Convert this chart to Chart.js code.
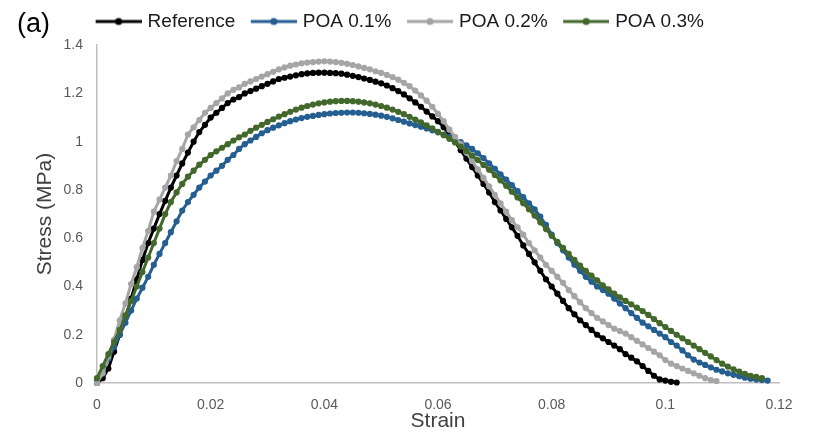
<!DOCTYPE html>
<html>
<head>
<meta charset="utf-8">
<script src="https://cdn.jsdelivr.net/npm/chart.js@4.4.1/dist/chart.umd.min.js"></script>
<style>
  body { margin: 0; background: #fff; }
  #wrap { width: 813px; height: 442px; }
</style>
</head>
<body>
<div id="wrap"><canvas id="stress" width="813" height="442"></canvas></div>
<script>
var seriesNames = ["Reference", "POA 0.1%", "POA 0.2%", "POA 0.3%"];
var seriesColors = ["#000000", "#255e91", "#a5a5a5", "#43682b"];

var xTickLabels = ["0", "0.02", "0.04", "0.06", "0.08", "0.1", "0.12"];
var yTickLabels = ["0", "0.2", "0.4", "0.6", "0.8", "1", "1.2", "1.4"];

// strain readings, shared by all curves
var strain = [
    0.000, 0.001, 0.002, 0.003, 0.004, 0.005, 0.006, 0.007, 0.008, 0.009,
    0.010, 0.011, 0.012, 0.013, 0.014, 0.015, 0.016, 0.017, 0.018, 0.019,
    0.020, 0.021, 0.022, 0.023, 0.024, 0.025, 0.026, 0.027, 0.028, 0.029,
    0.030, 0.031, 0.032, 0.033, 0.034, 0.035, 0.036, 0.037, 0.038, 0.039,
    0.040, 0.041, 0.042, 0.043, 0.044, 0.045, 0.046, 0.047, 0.048, 0.049,
    0.050, 0.051, 0.052, 0.053, 0.054, 0.055, 0.056, 0.057, 0.058, 0.059,
    0.060, 0.061, 0.062, 0.063, 0.064, 0.065, 0.066, 0.067, 0.068, 0.069,
    0.070, 0.071, 0.072, 0.073, 0.074, 0.075, 0.076, 0.077, 0.078, 0.079,
    0.080, 0.081, 0.082, 0.083, 0.084, 0.085, 0.086, 0.087, 0.088, 0.089,
    0.090, 0.091, 0.092, 0.093, 0.094, 0.095, 0.096, 0.097, 0.098, 0.099,
    0.100, 0.101, 0.102, 0.103, 0.104, 0.105, 0.106, 0.107, 0.108, 0.109,
    0.110, 0.111, 0.112, 0.113, 0.114, 0.115, 0.116, 0.117, 0.118
];

// stress (MPa)
var stressRef = [
    0.00, 0.02, 0.06, 0.13, 0.20, 0.27, 0.35, 0.43, 0.51, 0.58,
    0.64, 0.70, 0.755, 0.81, 0.86, 0.91, 0.955, 1.00, 1.04, 1.07,
    1.10, 1.12, 1.14, 1.16, 1.175, 1.185, 1.20, 1.21, 1.22, 1.23,
    1.24, 1.25, 1.26, 1.265, 1.27, 1.275, 1.28, 1.283, 1.285, 1.286,
    1.286, 1.285, 1.284, 1.282, 1.278, 1.273, 1.268, 1.262, 1.256, 1.249,
    1.242, 1.233, 1.222, 1.21, 1.196, 1.18, 1.163, 1.145, 1.125, 1.105,
    1.085, 1.06, 1.03, 1.0, 0.965, 0.93, 0.895, 0.86, 0.825, 0.79,
    0.75, 0.715, 0.68, 0.645, 0.61, 0.57, 0.535, 0.50, 0.465, 0.43,
    0.40, 0.37, 0.34, 0.31, 0.285, 0.26, 0.24, 0.22, 0.20, 0.185,
    0.17, 0.155, 0.14, 0.12, 0.105, 0.09, 0.07, 0.05, 0.03, 0.015,
    0.01, 0.005, 0.002
];

var stressPoa1 = [
    0.01, 0.05, 0.10, 0.15, 0.20, 0.25, 0.30, 0.35, 0.395, 0.44,
    0.49, 0.535, 0.58, 0.625, 0.67, 0.715, 0.75, 0.78, 0.81, 0.835,
    0.86, 0.88, 0.90, 0.925, 0.945, 0.97, 0.99, 1.005, 1.02, 1.035,
    1.048, 1.058, 1.068, 1.077, 1.085, 1.092, 1.098, 1.103, 1.107, 1.111,
    1.114, 1.117, 1.119, 1.12, 1.121, 1.121, 1.12, 1.118, 1.115, 1.112,
    1.108, 1.103, 1.097, 1.09, 1.083, 1.076, 1.069, 1.062, 1.055, 1.047,
    1.039, 1.03, 1.02, 1.01, 0.998, 0.985, 0.97, 0.952, 0.932, 0.91,
    0.888, 0.865, 0.843, 0.82, 0.795, 0.77, 0.745, 0.72, 0.69, 0.655,
    0.615, 0.58, 0.55, 0.52, 0.49, 0.465, 0.44, 0.42, 0.40, 0.385,
    0.37, 0.35, 0.33, 0.31, 0.29, 0.27, 0.25, 0.235, 0.22, 0.205,
    0.19, 0.17, 0.155, 0.135, 0.115, 0.097, 0.085, 0.075, 0.065, 0.055,
    0.048, 0.04, 0.034, 0.028, 0.022, 0.018, 0.014, 0.012, 0.01
];

var stressPoa2 = [
    0.00, 0.04, 0.11, 0.18, 0.26, 0.33, 0.41, 0.48, 0.56, 0.63,
    0.71, 0.76, 0.81, 0.86, 0.92, 0.97, 1.03, 1.06, 1.09, 1.12,
    1.14, 1.16, 1.18, 1.20, 1.215, 1.225, 1.24, 1.25, 1.26, 1.27,
    1.28, 1.29, 1.30, 1.308, 1.315, 1.32, 1.325, 1.328, 1.33, 1.332,
    1.333, 1.332, 1.33, 1.327, 1.323, 1.318, 1.312, 1.306, 1.30, 1.292,
    1.285, 1.277, 1.268, 1.257, 1.244, 1.23, 1.212, 1.192, 1.17, 1.145,
    1.115, 1.085, 1.05, 1.02, 0.99, 0.955, 0.92, 0.885, 0.85, 0.815,
    0.78, 0.745, 0.71, 0.675, 0.645, 0.615, 0.58, 0.55, 0.52, 0.49,
    0.465, 0.44, 0.415, 0.385, 0.36, 0.335, 0.31, 0.29, 0.27, 0.255,
    0.24, 0.225, 0.215, 0.205, 0.19, 0.175, 0.16, 0.145, 0.13, 0.115,
    0.095, 0.08, 0.07, 0.06, 0.05, 0.04, 0.03, 0.02, 0.012, 0.008
];

var stressPoa3 = [
    0.02, 0.07, 0.12, 0.17, 0.22, 0.28, 0.34, 0.40, 0.46, 0.52,
    0.58, 0.64, 0.70, 0.75, 0.79, 0.825, 0.855, 0.88, 0.905, 0.925,
    0.945, 0.96, 0.975, 0.99, 1.005, 1.018, 1.03, 1.045, 1.058, 1.07,
    1.082, 1.093, 1.104, 1.114, 1.124, 1.133, 1.141, 1.148, 1.154, 1.159,
    1.163, 1.166, 1.168, 1.169, 1.169, 1.168, 1.166, 1.163, 1.159, 1.154,
    1.148, 1.141, 1.133, 1.124, 1.114, 1.103, 1.092, 1.08, 1.068, 1.055,
    1.041, 1.027, 1.012, 0.997, 0.98, 0.962, 0.943, 0.924, 0.904, 0.884,
    0.862, 0.84, 0.817, 0.793, 0.769, 0.745, 0.72, 0.694, 0.666, 0.638,
    0.61, 0.585, 0.56, 0.535, 0.51, 0.487, 0.465, 0.445, 0.425, 0.405,
    0.388, 0.371, 0.355, 0.34, 0.326, 0.312, 0.298, 0.282, 0.265, 0.248,
    0.232, 0.216, 0.2, 0.185, 0.17, 0.155, 0.14, 0.125, 0.11, 0.095,
    0.08, 0.068, 0.057, 0.047, 0.038, 0.03, 0.025, 0.02
];

var allStress = [stressRef, stressPoa1, stressPoa2, stressPoa3];

var fontFamily = '"Liberation Sans", Arial, sans-serif';

function toPoints(values) {
    return values.map(function (v, i) {
        return { x: strain[i], y: v };
    });
}

// line + dot picture for the legend; drawn in the right part so the
// text sits close to the line like in the original
function legendIcon(color) {
    var c = document.createElement("canvas");
    c.width = 61;
    c.height = 10;
    var g = c.getContext("2d");
    g.strokeStyle = color;
    g.lineWidth = 3;
    g.beginPath();
    g.moveTo(15, 5);
    g.lineTo(61, 5);
    g.stroke();
    g.fillStyle = color;
    g.beginPath();
    g.arc(38, 5, 3.6, 0, Math.PI * 2);
    g.fill();
    return c;
}
var legendIcons = seriesColors.map(legendIcon);

var panelLabel = {
    id: "panelLabel",
    afterDraw: function (chart) {
        var ctx = chart.ctx;
        ctx.save();
        ctx.font = "27px " + fontFamily;
        ctx.fillStyle = "#000";
        ctx.textBaseline = "alphabetic";
        ctx.fillText("(a)", 17, 32);
        ctx.restore();
    }
};

var datasets = seriesNames.map(function (name, i) {
    return {
        label: name,
        data: toPoints(allStress[i]),
        borderColor: seriesColors[i],
        backgroundColor: seriesColors[i],
        pointBackgroundColor: seriesColors[i],
        pointBorderWidth: 0,
        pointRadius: 3.1,
        borderWidth: 3,
        tension: 0,
        clip: false,
        order: 4 - i   // later series drawn on top, like the original
    };
});

var stressChart = new Chart(document.getElementById("stress"), {
    type: "line",
    data: { datasets: datasets },
    options: {
        responsive: false,
        animation: false,
        devicePixelRatio: 1,
        layout: { padding: { top: 8, left: 9, right: 34, bottom: 0 } },
        plugins: {
            tooltip: { enabled: false },
            // empty title used only as a gap between legend and plot
            title: {
                display: true,
                text: " ",
                weight: 500,
                font: { size: 1 },
                padding: { top: 0, bottom: 3 }
            },
            legend: {
                display: true,
                position: "top",
                labels: {
                    usePointStyle: true,
                    pointStyleWidth: 54,
                    padding: 4,
                    color: "#1a1a1a",
                    font: { size: 19, family: fontFamily },
                    sort: function (a, b) { return a.datasetIndex - b.datasetIndex; },
                    generateLabels: function (chart) {
                        var items = Chart.defaults.plugins.legend.labels.generateLabels(chart);
                        items.forEach(function (it) {
                            it.pointStyle = legendIcons[it.datasetIndex];
                        });
                        return items;
                    }
                }
            }
        },
        scales: {
            x: {
                type: "linear",
                min: 0,
                max: 0.12,
                grid: { display: false, drawTicks: false },
                border: { color: "#bfbfbf", width: 1.5 },
                ticks: {
                    stepSize: 0.02,
                    padding: 14,
                    color: "#595959",
                    font: { size: 14, family: fontFamily },
                    maxRotation: 0,
                    callback: function (v, i) { return xTickLabels[i]; }
                },
                title: {
                    display: true,
                    text: "Strain",
                    color: "#404040",
                    font: { size: 21, family: fontFamily },
                    padding: { top: 8, bottom: 8 }
                },
                afterFit: function (scale) { scale.height = 59; }
            },
            y: {
                min: 0,
                max: 1.4,
                grid: { display: false, drawTicks: false },
                border: { color: "#bfbfbf", width: 1.5 },
                ticks: {
                    stepSize: 0.2,
                    padding: 14,
                    color: "#595959",
                    font: { size: 14, family: fontFamily },
                    callback: function (v, i) { return yTickLabels[i]; }
                },
                title: {
                    display: true,
                    text: "Stress (MPa)",
                    color: "#404040",
                    font: { size: 21, family: fontFamily },
                    padding: { top: 24, bottom: 24 }
                },
                afterFit: function (scale) { scale.width = 88; }
            }
        }
    },
    plugins: [panelLabel]
});
</script>
</body>
</html>
